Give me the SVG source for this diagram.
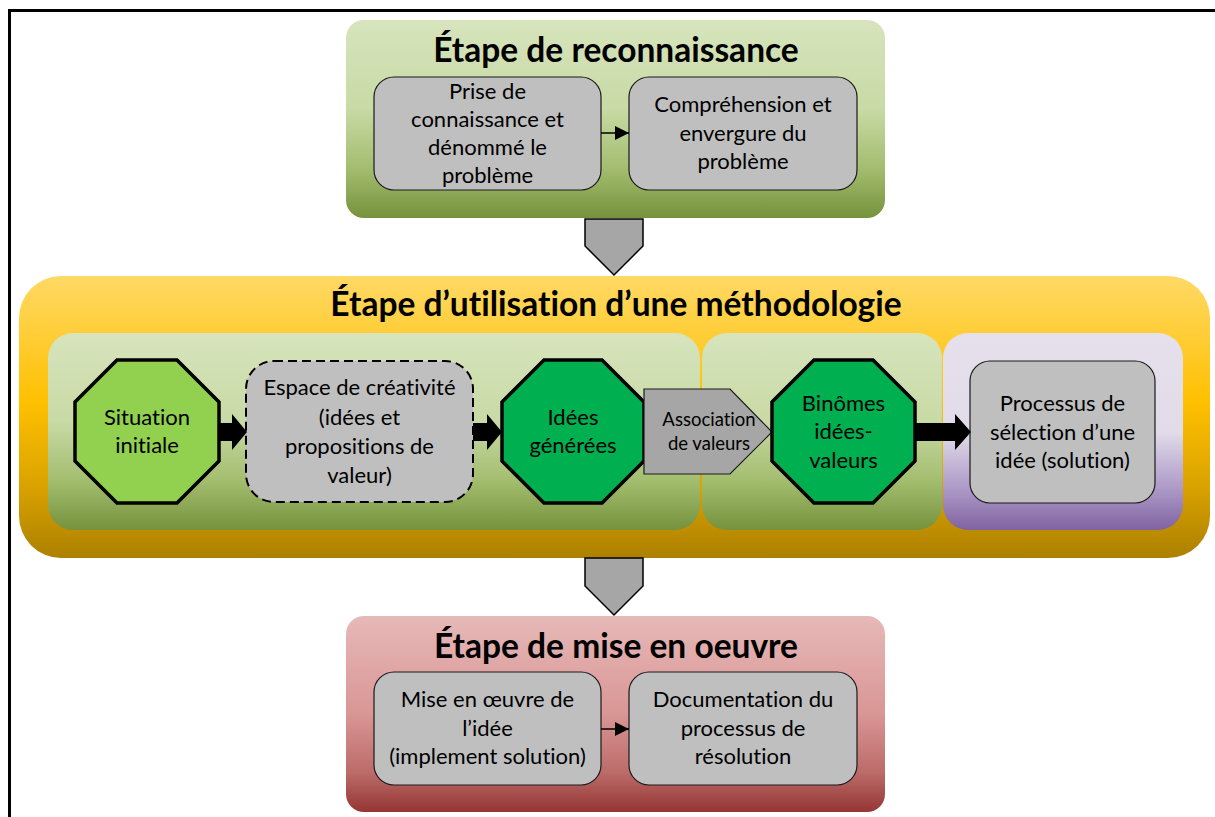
<svg xmlns="http://www.w3.org/2000/svg" width="1215" height="817" viewBox="0 0 1215 817">
  <defs>
    <linearGradient id="gGreen" x1="0" y1="0" x2="0" y2="1">
      <stop offset="0" stop-color="#d7e4bd"/>
      <stop offset="0.45" stop-color="#c8daa5"/>
      <stop offset="0.75" stop-color="#a3bd6f"/>
      <stop offset="1" stop-color="#76923c"/>
    </linearGradient>
    <linearGradient id="gGold" x1="0" y1="0" x2="0" y2="1">
      <stop offset="0" stop-color="#ffd966"/>
      <stop offset="0.45" stop-color="#ffc000"/>
      <stop offset="0.75" stop-color="#d9a200"/>
      <stop offset="1" stop-color="#ac8000"/>
    </linearGradient>
    <linearGradient id="gPurple" x1="0" y1="0" x2="0" y2="1">
      <stop offset="0" stop-color="#e6e0ec"/>
      <stop offset="0.5" stop-color="#e2dcea"/>
      <stop offset="0.8" stop-color="#ab97c6"/>
      <stop offset="1" stop-color="#7f63a1"/>
    </linearGradient>
    <linearGradient id="gRed" x1="0" y1="0" x2="0" y2="1">
      <stop offset="0" stop-color="#e6b9b8"/>
      <stop offset="0.5" stop-color="#d99695"/>
      <stop offset="0.8" stop-color="#bb6b69"/>
      <stop offset="1" stop-color="#943634"/>
    </linearGradient>
    <marker id="tri" viewBox="0 0 14 14" refX="14" refY="7" markerWidth="14" markerHeight="14" markerUnits="userSpaceOnUse" orient="auto">
      <path d="M0,0 L14,7 L0,14 Z" fill="#000"/>
    </marker>
  </defs>
  <style>
    text { font-variant-ligatures: none; }
    .title { font-family: Lato, "Liberation Sans", sans-serif; font-weight: bold; font-size: 33.5px; fill: #000; text-anchor: middle; }
    .lbl { font-family: Lato, "Liberation Sans", sans-serif; font-size: 22px; fill: #000; text-anchor: middle; }
    .sm { font-family: Lato, "Liberation Sans", sans-serif; font-size: 18.5px; fill: #000; text-anchor: middle; }
    .box { fill: #bfbfbf; stroke: #1a1a1a; stroke-width: 1.2; }
    .dash { fill: #bfbfbf; stroke: #000; stroke-width: 2; stroke-dasharray: 9 5; }
    .oct { stroke: #000; stroke-width: 3.5; stroke-linejoin: miter; }
    .chev { fill: #a6a6a6; stroke: #000; stroke-width: 1.5; }
    .blk { fill: #000; }
    .thin { stroke: #000; stroke-width: 1.5; fill: none; }
  </style>

  <rect width="1215" height="817" fill="#fff"/>
  <!-- outer frame -->
  <rect x="9.5" y="10.5" width="1220" height="820" fill="none" stroke="#000" stroke-width="3"/>

  <!-- stage 1 -->
  <g id="stage-reconnaissance">
    <rect x="346" y="20" width="539" height="198" rx="18" fill="url(#gGreen)"/>
    <text class="title" x="616" y="62">Étape de reconnaissance</text>
  </g>
  <g id="prise-de-connaissance">
    <rect class="box" x="374" y="77" width="227" height="113" rx="20"/>
    <text class="lbl" x="487.5" y="99">Prise de</text>
    <text class="lbl" x="487.5" y="127">connaissance et</text>
    <text class="lbl" x="487.5" y="155">dénommé le</text>
    <text class="lbl" x="487.5" y="183">problème</text>
  </g>
  <g id="comprehension">
    <rect class="box" x="629" y="77" width="228" height="113" rx="20"/>
    <text class="lbl" x="743" y="112">Compréhension et</text>
    <text class="lbl" x="743" y="141">envergure du</text>
    <text class="lbl" x="743" y="169">problème</text>
  </g>

  <!-- stage 2 -->
  <g id="stage-methodologie">
    <rect x="19" y="276" width="1191" height="282" rx="42" fill="url(#gGold)"/>
    <text class="title" x="616" y="316">Étape d’utilisation d’une méthodologie</text>
  </g>
  <g id="panel-idees">
    <rect x="48" y="333" width="652" height="197" rx="25" fill="url(#gGreen)"/>
  </g>
  <g id="panel-binomes">
    <rect x="702" y="333" width="240" height="197" rx="25" fill="url(#gGreen)"/>
  </g>
  <g id="panel-selection">
    <rect x="943" y="333" width="240" height="197" rx="25" fill="url(#gPurple)"/>
  </g>
  <g id="situation-initiale">
    <polygon class="oct" fill="#92d050" points="117,360 177,360 219,402 219,461 177,503 117,503 75,461 75,402"/>
    <text class="lbl" x="147" y="425">Situation</text>
    <text class="lbl" x="147" y="453">initiale</text>
  </g>
  <g id="espace-creativite">
    <rect class="dash" x="246" y="361" width="227" height="141" rx="28"/>
    <text class="lbl" x="359.5" y="395">Espace de créativité</text>
    <text class="lbl" x="359.5" y="425">(idées et</text>
    <text class="lbl" x="359.5" y="454">propositions de</text>
    <text class="lbl" x="359.5" y="483">valeur)</text>
  </g>
  <g id="idees-generees">
    <polygon class="oct" fill="#00b050" points="544,360 602,360 644,402 644,461 602,503 544,503 502,461 502,402"/>
    <text class="lbl" x="573" y="425">Idées</text>
    <text class="lbl" x="573" y="453">générées</text>
  </g>
  <g id="association-valeurs">
    <polygon class="box" style="fill:#a6a6a6" points="644,389 730,389 772,432 730,474 644,474"/>
    <text class="sm" x="709" y="426">Association</text>
    <text class="sm" x="709" y="450">de valeurs</text>
  </g>
  <g id="binomes">
    <polygon class="oct" fill="#00b050" points="814,360 873,360 915,402 915,461 873,503 814,503 772,461 772,402"/>
    <text class="lbl" x="843.5" y="411">Binômes</text>
    <text class="lbl" x="843.5" y="439">idées-</text>
    <text class="lbl" x="843.5" y="468">valeurs</text>
  </g>
  <g id="selection-idee">
    <rect class="box" x="970" y="361" width="185" height="142" rx="20"/>
    <text class="lbl" x="1062.5" y="411">Processus de</text>
    <text class="lbl" x="1062.5" y="440">sélection d’une</text>
    <text class="lbl" x="1062.5" y="468">idée (solution)</text>
  </g>

  <!-- stage 3 -->
  <g id="stage-mise-en-oeuvre">
    <rect x="346" y="616" width="539" height="196" rx="18" fill="url(#gRed)"/>
    <text class="title" x="616" y="658">Étape de mise en oeuvre</text>
  </g>
  <g id="mise-en-oeuvre-idee">
    <rect class="box" x="374" y="672" width="227" height="113" rx="20"/>
    <text class="lbl" x="487.5" y="707">Mise en œuvre de</text>
    <text class="lbl" x="487.5" y="736">l’idée</text>
    <text class="lbl" x="487.5" y="764">(implement solution)</text>
  </g>
  <g id="documentation">
    <rect class="box" x="629" y="672" width="228" height="113" rx="20"/>
    <text class="lbl" x="743" y="707">Documentation du</text>
    <text class="lbl" x="743" y="736">processus de</text>
    <text class="lbl" x="743" y="764">résolution</text>
  </g>

  <!-- connectors -->
  <g id="connectors">
    <line class="thin" x1="601" y1="133" x2="629" y2="133" marker-end="url(#tri)"/>
    <line class="thin" x1="601" y1="729" x2="629" y2="729" marker-end="url(#tri)"/>
    <polygon class="chev" points="585,219 643,219 643,246 614,275 585,246"/>
    <polygon class="chev" points="585,558 643,558 643,586 614,615 585,586"/>
    <polygon class="blk" points="219,423 232,423 232,414 247,432 232,450 232,441 219,441"/>
    <polygon class="blk" points="473,423 487,423 487,414 502,432 487,450 487,441 473,441"/>
    <polygon class="blk" points="915,423 955,423 955,414 971,432 955,450 955,441 915,441"/>
  </g>
</svg>
